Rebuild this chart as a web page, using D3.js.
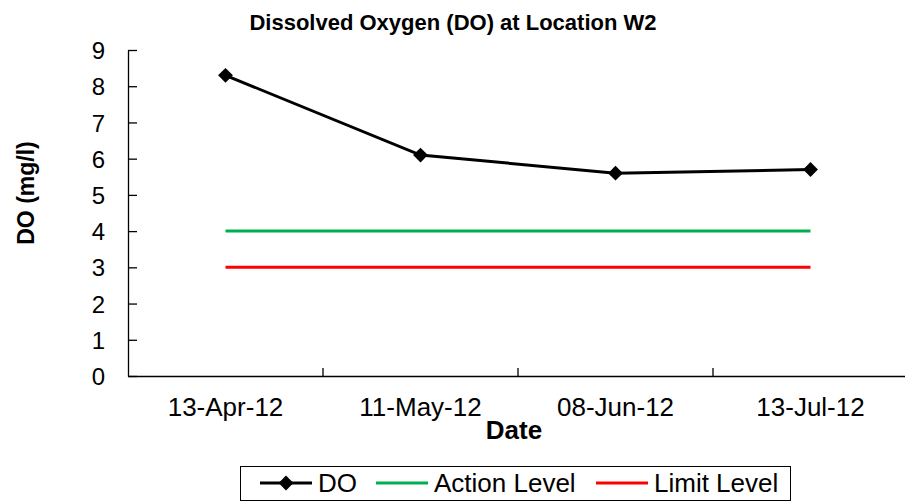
<!DOCTYPE html>
<html>
<head>
<meta charset="utf-8">
<script src="https://cdn.jsdelivr.net/npm/d3@7"></script>
<style>
  body { margin: 0; background: #fff; }
  text { font-family: "Liberation Sans", Arial, sans-serif; }
</style>
</head>
<body>
<div class="container"></div>
<script>
// chart data
const dates = ['13-Apr-12', '11-May-12', '08-Jun-12', '13-Jul-12'];
const doValues = [8.3, 6.1, 5.6, 5.7];
const actionLevel = [4, 4, 4, 4];
const limitLevel = [3, 3, 3, 3];
const yTicks = [0, 1, 2, 3, 4, 5, 6, 7, 8, 9];

const width = 905;
const height = 503;
const plotLeft = 128;
const plotRight = 908;
const plotTop = 50;
const plotBottom = 376;
const fontFamily = '"Liberation Sans", Arial, sans-serif';

function draw() {
    const svg = d3.select('.container')
        .append('svg')
        .attr('width', width)
        .attr('height', height);

    const xscale = d3.scaleBand().domain(dates).range([plotLeft, plotRight]);
    const yscale = d3.scaleLinear().domain([0, 9]).range([plotBottom, plotTop]);
    const cx = d => xscale(d) + xscale.bandwidth() / 2;

    // title
    svg.append('text')
        .attr('x', 453)
        .attr('y', 30)
        .attr('text-anchor', 'middle')
        .attr('font-size', 22)
        .attr('font-weight', 'bold')
        .text('Dissolved Oxygen (DO) at Location W2');

    // y axis (ticks point inward)
    const yAxis = svg.append('g')
        .attr('transform', `translate(${plotLeft},0)`)
        .call(d3.axisLeft(yscale).tickValues(yTicks).tickSizeInner(-9).tickSizeOuter(0).tickPadding(23));
    yAxis.select('.domain').attr('stroke', '#000').attr('stroke-width', 1.3);
    yAxis.selectAll('.tick line').attr('stroke', '#000').attr('stroke-width', 1.3);
    yAxis.selectAll('.tick text')
        .attr('font-size', 24)
        .attr('fill', '#000')
        .attr('dy', '0.36em')
        .attr('font-family', fontFamily);

    // x axis
    const xAxis = svg.append('g')
        .attr('transform', `translate(0,${plotBottom})`)
        .call(d3.axisBottom(xscale).tickSize(0).tickPadding(22));
    xAxis.select('.domain').attr('stroke', '#000').attr('stroke-width', 1.3);
    xAxis.selectAll('.tick text')
        .attr('font-size', 26)
        .attr('fill', '#000')
        .attr('font-family', fontFamily);

    // category separators (inside ticks)
    svg.selectAll('.xsep')
        .data(dates.slice(1))
        .enter()
        .append('line')
        .attr('x1', d => xscale(d))
        .attr('x2', d => xscale(d))
        .attr('y1', plotBottom)
        .attr('y2', plotBottom - 8)
        .attr('stroke', '#000')
        .attr('stroke-width', 1.3);

    // axis titles
    svg.append('text')
        .attr('x', 514)
        .attr('y', 439)
        .attr('text-anchor', 'middle')
        .attr('font-size', 26)
        .attr('font-weight', 'bold')
        .text('Date');

    svg.append('text')
        .attr('transform', 'translate(34,193) rotate(-90)')
        .attr('text-anchor', 'middle')
        .attr('font-size', 23)
        .attr('font-weight', 'bold')
        .text('DO (mg/l)');

    const line = d3.line()
        .x((d, i) => cx(dates[i]))
        .y(d => yscale(d));

    svg.append('path')
        .datum(actionLevel)
        .attr('d', line)
        .attr('fill', 'none')
        .attr('stroke', '#00b050')
        .attr('stroke-width', 3);

    svg.append('path')
        .datum(limitLevel)
        .attr('d', line)
        .attr('fill', 'none')
        .attr('stroke', '#ff0000')
        .attr('stroke-width', 3);

    svg.append('path')
        .datum(doValues)
        .attr('d', line)
        .attr('fill', 'none')
        .attr('stroke', '#000')
        .attr('stroke-width', 3);

    const diamond = d3.symbol().type(d3.symbolDiamond2).size(140);
    svg.selectAll('.pt')
        .data(doValues)
        .enter()
        .append('path')
        .attr('class', 'pt')
        .attr('transform', (d, i) => `translate(${cx(dates[i])},${yscale(d)})`)
        .attr('d', diamond)
        .attr('fill', '#000');

    // legend
    const legend = svg.append('g');
    legend.append('rect')
        .attr('x', 240.5)
        .attr('y', 466.5)
        .attr('width', 550)
        .attr('height', 34)
        .attr('fill', '#fff')
        .attr('stroke', '#000')
        .attr('stroke-width', 1);

    const items = [
        { name: 'DO', color: '#000', x: 260, marker: true },
        { name: 'Action Level', color: '#00b050', x: 376, marker: false },
        { name: 'Limit Level', color: '#ff0000', x: 596, marker: false },
    ];
    items.forEach(it => {
        legend.append('line')
            .attr('x1', it.x)
            .attr('x2', it.x + 52)
            .attr('y1', 483)
            .attr('y2', 483)
            .attr('stroke', it.color)
            .attr('stroke-width', 3);
        if (it.marker) {
            legend.append('path')
                .attr('transform', `translate(${it.x + 26},483)`)
                .attr('d', diamond)
                .attr('fill', '#000');
        }
        legend.append('text')
            .attr('x', it.x + 58)
            .attr('y', 492)
            .attr('font-size', 26)
            .text(it.name);
    });
}

draw();
</script>
</body>
</html>
